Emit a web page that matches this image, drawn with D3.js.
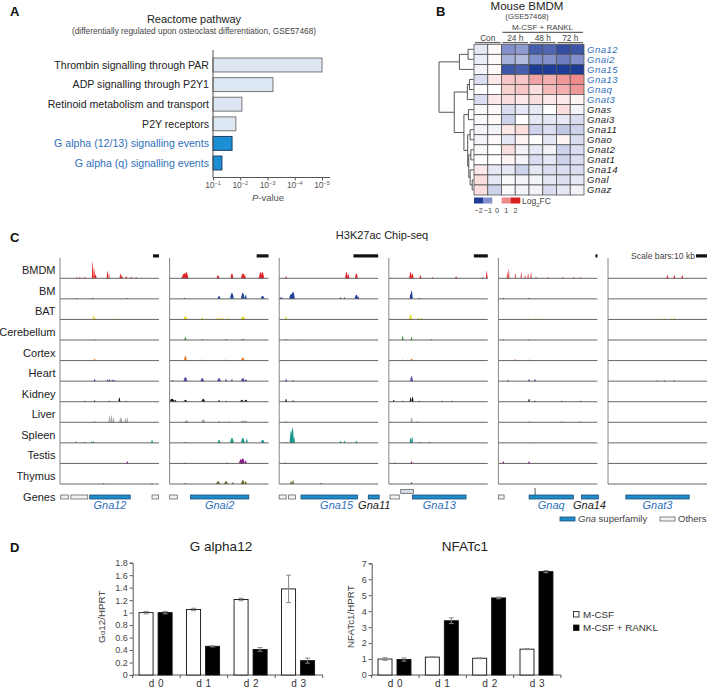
<!DOCTYPE html>
<html><head><meta charset="utf-8">
<script src="https://cdn.jsdelivr.net/npm/d3@7"></script>
<style>body{margin:0;background:#fff}svg{display:block}text{font-family:"Liberation Sans",Arial,Helvetica,sans-serif}</style>
</head><body><svg id="c" width="709" height="688"></svg>
<script>
// ---------------- DATA ----------------
// Panel A
const pathways = ["Thrombin signalling through PAR","ADP signalling through P2Y1","Retinoid metabolism and transport","P2Y receptors","G alpha (12/13) signalling events","G alpha (q) signalling events"];
const pathwayP = [1.0e-5, 6.3e-4, 8.7e-3, 1.45e-2, 2.0e-2, 4.7e-2];
const pathwayHighlighted = [false,false,false,false,true,true];
const pTicks = [1e-1,1e-2,1e-3,1e-4,1e-5];

// Panel B
const heatGenes = ["Gna12","Gnai2","Gna15","Gna13","Gnaq","Gnat3","Gnas","Gnai3","Gna11","Gnao","Gnat2","Gnat1","Gna14","Gnal","Gnaz"];
const heatHighlighted = ["Gna12","Gnai2","Gna15","Gna13","Gnaq","Gnat3"];
const heatSamples = ["Con-1","Con-2","24h-1","24h-2","48h-1","48h-2","72h-1","72h-2"];
const heatGroups = ["Con","24 h","48 h","72 h"];
const heatValues = [
  [-0.2, 0.05,-1.0,-0.9,-1.6,-1.5,-1.8,-1.7],
  [-0.15,0.05,-0.7,-0.6,-1.0,-1.0,-1.2,-1.0],
  [-0.1, 0.05,-1.7,-1.6,-2.0,-2.0,-2.2,-2.2],
  [-0.3, 0.2, 0.5, 0.5, 0.8, 0.7, 0.9, 1.0],
  [0.0,  0.0, 0.4, 0.5, 0.3, 0.6, 0.7, 0.9],
  [-0.3, 0.2, 0.3, 0.2, 0.3, 0.2, 0.2, 0.1],
  [-0.05,0.05,-0.3,-0.2,-0.2, 0.0, 0.3,-0.1],
  [-0.05,0.05,-0.4, 0.0,-0.2,-0.2,-0.2,-0.3],
  [-0.1,-0.1, 0.2, 0.3,-0.4,-0.3,-0.5,-0.4],
  [-0.1, 0.05,-0.2, 0.1, 0.0,-0.2, 0.1,-0.3],
  [-0.05,0.0, 0.3,-0.1,-0.2,-0.1,-0.4,-0.3],
  [0.0,  0.0, 0.1,-0.1,-0.3,-0.2,-0.4,-0.3],
  [0.2, -0.2,-0.2,-0.4,-0.2,-0.3,-0.3,-0.3],
  [0.3, -0.2,-0.05,-0.1,-0.1,-0.2,-0.3,-0.2],
  [0.3, -0.4,-0.05,-0.1,-0.1,-0.3,-0.2,-0.1]
];
const colorbarTicks = [-2,-1,0,1,2];
// dendrogram merges: [childA, childB, height]; leaves 0..14, merges numbered from 15
const dendroMerges = [
  [0,1,0.16],[15,2,0.41],[3,4,0.12],[17,5,0.18],[6,7,0.15],[8,9,0.10],[10,11,0.08],
  [13,14,0.04],[12,22,0.10],[21,23,0.14],[20,24,0.17],[19,25,0.28],[18,26,0.56],[16,27,1.0]
];

// Panel C
const chipTissues = ["BMDM","BM","BAT","Cerebellum","Cortex","Heart","Kidney","Liver","Spleen","Testis","Thymus"];
const chipLoci = ["Gna12","Gnai2","Gna15","Gna13","Gnaq","Gnat3"];
const locusSpanKb = [165, 83, 40, 71, 500, 90];
// peaks per locus, per tissue: [position (0-1), height, halfwidth]
const chipPeaks = [
 [ // Gna12
  [[0.17,1],[0.2,1],[0.25,1],[0.33,16,0.008],[0.345,10,0.008],[0.36,4],[0.48,7,0.008],[0.495,5,0.006],[0.61,5,0.008],[0.625,3],[0.67,2],[0.72,1.5],[0.77,1]],
  [[0.17,0.8],[0.33,1],[0.68,0.8]],
  [[0.34,4],[0.36,1.5],[0.5,1],[0.55,1],[0.6,1],[0.68,1]],
  [[0.35,0.8]],
  [[0.35,2]],
  [[0.35,2],[0.48,1.5],[0.5,2],[0.53,1.5],[0.55,1]],
  [[0.25,1],[0.35,1.5],[0.5,1],[0.6,4],[0.67,1]],
  [[0.35,1.5],[0.5,6],[0.52,7],[0.54,5],[0.61,5],[0.62,4],[0.66,4],[0.68,5]],
  [[0.16,1.5],[0.25,1],[0.32,1.5],[0.34,1.5],[0.93,3]],
  [[0.68,2]],
  [[0.44,1],[0.93,1]]
 ],
 [ // Gnai2
  [[0.15,5,0.03],[0.17,6,0.02],[0.49,3,0.015],[0.63,5,0.015],[0.74,5,0.02],[0.76,4],[0.92,6,0.02],[0.94,6,0.015]],
  [[0.15,1],[0.5,3,0.015],[0.63,6,0.02],[0.74,6,0.02],[0.77,4],[0.94,3,0.02]],
  [[0.16,3,0.02],[0.33,2,0.015],[0.48,2],[0.51,2],[0.54,2],[0.59,2],[0.74,3,0.02],[0.76,2],[0.94,1]],
  [[0.16,3,0.012],[0.33,1],[0.57,1],[0.74,1,0.02]],
  [[0.16,5,0.015],[0.33,1],[0.57,1],[0.74,3,0.02]],
  [[0.03,1],[0.16,4,0.02],[0.33,3,0.02],[0.5,3,0.02],[0.57,2],[0.63,2],[0.74,3,0.02],[0.77,2]],
  [[0.02,3,0.04],[0.06,2],[0.16,2,0.02],[0.34,3,0.02],[0.5,2],[0.57,1],[0.73,2,0.02],[0.77,2,0.02]],
  [[0.17,2,0.02],[0.34,3,0.02],[0.5,1.5],[0.6,1],[0.73,2],[0.75,2],[0.77,2]],
  [[0.16,1],[0.5,3,0.015],[0.63,5,0.02],[0.74,5,0.02],[0.78,4],[0.94,3,0.02]],
  [[0.16,0.8],[0.58,1],[0.72,4,0.02],[0.74,5,0.02],[0.77,3]],
  [[0.16,1],[0.49,3,0.02],[0.57,3,0.02],[0.64,2],[0.74,4,0.02],[0.77,3]]
 ],
 [ // Gna15
  [[0.07,2],[0.68,6,0.015],[0.7,4],[0.78,5,0.015]],
  [[0.02,1.5,0.02],[0.12,5,0.02],[0.14,7,0.02],[0.62,1.5],[0.66,1.5],[0.78,4,0.02],[0.8,2]],
  [[0.07,3],[0.14,1],[0.78,1]],
  [[0.07,1],[0.2,0.5]],
  [[0.07,0.5]],
  [[0.07,2],[0.14,1]],
  [[0.07,3],[0.14,1.5]],
  [[0.07,1.5]],
  [[0.07,1],[0.12,12,0.015],[0.135,15,0.015],[0.15,6],[0.62,2],[0.66,2],[0.78,2]],
  [[0.06,1]],
  [[0.12,3],[0.14,4],[0.42,1]]
 ],
 [ // Gna13
  [[0.22,6,0.015],[0.24,5],[0.32,3],[0.44,1],[0.68,2],[0.95,1],[0.99,7,0.008]],
  [[0.22,5],[0.23,8,0.012],[0.31,1]],
  [[0.22,5,0.015],[0.3,2],[0.33,2]],
  [[0.14,4,0.01],[0.23,3,0.01],[0.43,1]],
  [[0.14,1],[0.23,2,0.015]],
  [[0.23,5,0.015]],
  [[0.05,2],[0.14,1],[0.22,4],[0.24,5],[0.31,1],[0.54,1],[0.64,1]],
  [[0.23,5,0.012],[0.29,1.5]],
  [[0.22,5,0.01],[0.235,6,0.01],[0.31,1],[0.41,1]],
  [[0.06,1],[0.23,2]],
  [[0.23,2]]
 ],
 [ // Gnaq
  [[0.09,6,0.006],[0.105,9,0.006],[0.17,5,0.006],[0.23,6,0.006],[0.27,3,0.006],[0.3,5,0.006],[0.33,6,0.006],[0.38,1],[0.5,1],[0.65,1],[0.76,1],[0.83,1]],
  [[0.05,1],[0.31,1]],
  [[0.31,1],[0.38,1],[0.44,1]],
  [[0.05,1],[0.31,0.8]],
  [[0.17,1.5],[0.31,1]],
  [[0.1,1],[0.31,2],[0.37,2]],
  [[0.31,3],[0.37,1],[0.64,1],[0.83,1]],
  [[0.31,1],[0.64,1],[0.83,1]],
  [[0.05,0.5],[0.31,0.5]],
  [[0.05,2],[0.31,2]],
  []
 ],
 [ // Gnat3
  [[0.6,3],[0.67,3],[0.75,3]],
  [],
  [[0.5,1],[0.57,1.5],[0.63,1],[0.67,2]],
  [],[],
  [[0.5,0.8],[0.57,0.8],[0.67,0.8]],
  [],[],[],[],[]
 ]
];
// gene annotations per locus: [start, end, kind, name, raised, label position]
const geneBoxes = [
  [[0.007,0.084,"other"],[0.11,0.28,"other"],[0.3,0.71,"gna","Gna12"],[0.93,0.995,"other"]],
  [[0.0,0.078,"other"],[0.21,0.8,"gna","Gnai2"]],
  [[0.0,0.07,"other"],[0.095,0.165,"other"],[0.22,0.79,"gna","Gna15",false,0.58],[0.9,1.01,"gna","Gna11",false,0.96]],
  [[0.012,0.106,"other"],[0.12,0.25,"other","",true],[0.24,0.78,"gna","Gna13"]],
  [[0.0,0.057,"other"],[0.37,0.374,"tss","",true],[0.31,0.757,"gna","Gnaq"],[0.84,1.01,"gna","Gna14",false,0.92]],
  [[0.18,0.82,"gna","Gnat3"]]
];
const geneHighlighted = ["Gna12","Gnai2","Gna15","Gna13","Gnaq","Gnat3"];

// Panel D
const days = ["d 0","d 1","d 2","d 3"];
const treatments = ["M-CSF","M-CSF + RANKL"];
const ga12Mcsf = [1.0, 1.05, 1.21, 1.38];
const ga12McsfErr = [0.02, 0.02, 0.02, 0.22];
const ga12Rankl = [1.0, 0.46, 0.41, 0.23];
const ga12RanklErr = [0.02, 0.01, 0.03, 0.04];
const nfatMcsf = [1.0, 1.12, 1.05, 1.62];
const nfatMcsfErr = [0.08, 0.02, 0.03, 0.03];
const nfatRankl = [0.97, 3.4, 4.83, 6.48];
const nfatRanklErr = [0.1, 0.18, 0.05, 0.07];
const ga12Ticks = [0,0.2,0.4,0.6,0.8,1,1.2,1.4,1.6,1.8];
const nfatTicks = [0,1,2,3,4,5,6,7];

// ---------------- DRAW ----------------
const svg = d3.select("#c");
const BLUE_TXT = "#2f6fba";
const TXT = "#222";

function panelLetter(t,x,y){svg.append("text").attr("x",x).attr("y",y).attr("font-size",13).attr("font-weight","bold").attr("fill","#111").text(t);}
panelLetter("A",10,16); panelLetter("B",436,16); panelLetter("C",10,242); panelLetter("D",10,552);

// ===== Panel A =====
{
  const g = svg.append("g");
  g.append("text").attr("x",194).attr("y",22.5).attr("text-anchor","middle").attr("font-size",11).attr("fill",TXT).text("Reactome pathway");
  g.append("text").attr("x",194).attr("y",33.5).attr("text-anchor","middle").attr("font-size",8.3).attr("fill","#444").text("(differentially regulated upon osteoclast differentiation, GSE57468)");
  const x = d3.scaleLog().domain([1e-1,1e-5]).range([213,322]);
  const y = d3.scaleBand().domain(pathways).range([55.2,172.8]).paddingInner(0.29).paddingOuter(0.145);
  g.selectAll("rect.bar").data(pathways).join("rect")
    .attr("x",x(1e-1)).attr("y",d=>y(d)).attr("height",y.bandwidth())
    .attr("width",(d,i)=>x(pathwayP[i])-x(1e-1))
    .attr("fill",(d,i)=>pathwayHighlighted[i]?"#1b8fd3":"#dde7f3")
    .attr("stroke",(d,i)=>pathwayHighlighted[i]?"#1d3f63":"#777").attr("stroke-width",1);
  g.selectAll("text.lab").data(pathways).join("text")
    .attr("x",209).attr("y",d=>y(d)+y.bandwidth()/2).attr("dy","0.35em").attr("text-anchor","end")
    .attr("font-size",10.6).attr("fill",(d,i)=>pathwayHighlighted[i]?BLUE_TXT:TXT).text(d=>d);
  g.append("line").attr("x1",213).attr("x2",213).attr("y1",50).attr("y2",177.5).attr("stroke","#555");
  const ax = g.append("g").attr("transform","translate(0,177.5)")
    .call(d3.axisBottom(x).tickValues(pTicks).tickFormat("").tickSize(3).tickSizeOuter(0));
  ax.select(".domain").attr("stroke","#555").attr("d","M213,0H330");
  ax.selectAll(".tick line").attr("stroke","#555");
  pTicks.forEach(t=>{
    const tx = g.append("text").attr("x",x(t)).attr("y",188).attr("text-anchor","middle").attr("font-size",8.5).attr("fill","#555");
    tx.append("tspan").text("10");
    tx.append("tspan").attr("dy",-3.5).attr("font-size",5.5).text("−"+Math.round(-Math.log10(t)));
  });
  const pv = g.append("text").attr("x",268).attr("y",201).attr("text-anchor","middle").attr("font-size",9.5).attr("fill","#555");
  pv.append("tspan").attr("font-style","italic").text("P");
  pv.append("tspan").text("-value");
}

// ===== Panel B =====
{
  const g = svg.append("g");
  const x = d3.scaleBand().domain(heatSamples).range([474,584]);
  const y = d3.scaleBand().domain(heatGenes).range([44.3,195]);
  const color = d3.scaleLinear().domain([-2,-1,0,1,2]).range(["#1e3c96","#8290cc","#ffffff","#ee8c8c","#d8201f"]).clamp(true);
  g.append("text").attr("x",527).attr("y",10).attr("text-anchor","middle").attr("font-size",11.5).attr("fill",TXT).text("Mouse BMDM");
  g.append("text").attr("x",527).attr("y",19.3).attr("text-anchor","middle").attr("font-size",7.8).attr("fill","#444").text("(GSE57468)");
  g.append("text").attr("x",542.5).attr("y",29.6).attr("text-anchor","middle").attr("font-size",8).attr("fill","#444").text("M-CSF + RANKL");
  g.append("line").attr("x1",x(heatSamples[2])+1).attr("x2",x(heatSamples[7])+x.bandwidth()-1).attr("y1",32.3).attr("y2",32.3).attr("stroke","#666").attr("stroke-width",1.3);
  heatGroups.forEach((grp,i)=>{
    const x0 = x(heatSamples[2*i])+1, x1 = x(heatSamples[2*i+1])+x.bandwidth()-1;
    g.append("text").attr("x",(x0+x1)/2).attr("y",40.5).attr("text-anchor","middle").attr("font-size",8.3).attr("fill","#444").text(grp);
    g.append("line").attr("x1",x0).attr("x2",x1).attr("y1",42.6).attr("y2",42.6).attr("stroke","#666").attr("stroke-width",1.3);
  });
  heatGenes.forEach((gene,r)=>{
    heatSamples.forEach((s,c)=>{
      g.append("rect").attr("x",x(s)).attr("y",y(gene)).attr("width",x.bandwidth()).attr("height",y.bandwidth())
        .attr("fill",color(heatValues[r][c])).attr("stroke","#555").attr("stroke-width",0.8);
    });
  });
  g.selectAll("text.gene").data(heatGenes).join("text")
    .attr("x",587).attr("y",d=>y(d)+y.bandwidth()/2).attr("dy","0.36em")
    .attr("font-size",9.6).attr("letter-spacing",0.45).attr("font-style","italic")
    .attr("fill",d=>heatHighlighted.includes(d)?BLUE_TXT:TXT).text(d=>d);
  // dendrogram
  const xd = d3.scaleLinear().domain([0,1]).range([473.6,439]);
  const nodes = heatGenes.map(gn=>({y:y(gn)+y.bandwidth()/2,h:0}));
  dendroMerges.forEach(([a,b,h])=>{
    const A=nodes[a],B=nodes[b],xp=xd(h);
    g.append("path").attr("d",`M${xd(A.h)},${A.y}H${xp}V${B.y}H${xd(B.h)}`)
      .attr("fill","none").attr("stroke","#444").attr("stroke-width",0.9);
    nodes.push({y:(A.y+B.y)/2,h});
  });
  // colorbar
  const cb = d3.scaleBand().domain(colorbarTicks).range([474,520]);
  g.selectAll("rect.cb").data(colorbarTicks).join("rect")
    .attr("x",d=>cb(d)).attr("y",197.5).attr("width",cb.bandwidth()+0.3).attr("height",6).attr("fill",d=>color(d));
  g.selectAll("text.cbl").data(colorbarTicks).join("text")
    .attr("x",d=>cb(d)+cb.bandwidth()/2).attr("y",212.5).attr("text-anchor","middle").attr("font-size",7.2).attr("fill","#444")
    .text(d=>d<0?"−"+(-d):d);
  const lf = g.append("text").attr("x",522).attr("y",204).attr("font-size",8.5).attr("fill","#444");
  lf.append("tspan").text("Log");
  lf.append("tspan").attr("dy",2.5).attr("font-size",6).text("2");
  lf.append("tspan").attr("dy",-2.5).text("FC");
}

// ===== Panel C =====
{
  const g = svg.append("g");
  const TCOL = {BMDM:"#e3242b",BM:"#1f3f99",BAT:"#e6de12",Cerebellum:"#3c9a3c",Cortex:"#ee7a22",Heart:"#4f4faa",Kidney:"#111111",Liver:"#a8a8a8",Spleen:"#17968a",Testis:"#8b1a8b",Thymus:"#6e6a2a"};
  const px = d3.scaleBand().domain(chipLoci).range([60,707]).paddingInner(0.097);
  const ty = d3.scalePoint().domain(chipTissues).range([278.3,484]);
  const hy = d3.scaleLinear().domain([0,16]).range([0,16.5]);
  g.append("text").attr("x",382).attr("y",238.5).attr("text-anchor","middle").attr("font-size",11).attr("fill",TXT).text("H3K27ac Chip-seq");
  g.append("text").attr("x",695).attr("y",259).attr("text-anchor","end").attr("font-size",8.6).attr("fill","#444").text("Scale bars:10 kb");
  chipTissues.forEach(t=>{
    g.append("text").attr("x",55.5).attr("y",ty(t)-4).attr("text-anchor","end").attr("font-size",11).attr("fill",TXT).text(t);
  });
  g.append("text").attr("x",55.5).attr("y",500.7).attr("text-anchor","end").attr("font-size",11).attr("fill",TXT).text("Genes");
  const area = d3.area().x(d=>d[0]).y0(d=>d[2]).y1(d=>d[1]).curve(d3.curveMonotoneX);
  chipLoci.forEach((loc,li)=>{
    const x0 = px(loc), w = px.bandwidth();
    const xs = d3.scaleLinear().domain([0,1]).range([x0,x0+w]).clamp(true);
    const xl = d3.scaleLinear().domain([0,1]).range([x0,x0+w]);
    chipTissues.forEach((t,ti)=>{
      const base = ty(t);
      chipPeaks[li][ti].forEach(pk=>{
        const [p,h,hw=0.01] = pk;
        const pts = [[xs(p-hw),base,base],[xs(p),base-hy(h),base],[xs(p+hw),base,base]];
        g.append("path").attr("d",area(pts)).attr("fill",TCOL[t]);
      });
      g.append("line").attr("x1",x0).attr("x2",x0+w).attr("y1",base).attr("y2",base).attr("stroke","#555").attr("stroke-width",0.9);
    });
    g.append("line").attr("x1",x0).attr("x2",x0).attr("y1",258).attr("y2",ty(chipTissues[chipTissues.length-1])).attr("stroke","#777").attr("stroke-width",0.9);
    const barW = 10/locusSpanKb[li]*w;
    g.append("rect").attr("x",x0+w-barW).attr("y",254.3).attr("width",barW).attr("height",3.2).attr("fill","#111");
    const gy = 497;
    geneBoxes[li].forEach(([s,e,kind,name,raised,lp])=>{
      const bx = xl(s), bw = Math.max(1, xl(e)-xl(s));
      if(kind==="tss"){
        g.append("line").attr("x1",bx).attr("x2",bx).attr("y1",488).attr("y2",495.5).attr("stroke","#555").attr("stroke-width",1);
        return;
      }
      const yy = raised ? 489.5 : gy-2;
      g.append("rect").attr("x",bx).attr("y",yy).attr("width",bw).attr("height",4)
        .attr("fill",kind==="gna"?"#1f8bc9":(raised?"#d6dbe8":"#f2f2f2"))
        .attr("stroke",kind==="gna"?"#1a4e78":"#666").attr("stroke-width",0.8);
      if(name){
        const lx = lp!==undefined ? xl(lp) : bx+bw/2;
        g.append("text").attr("x",lx).attr("y",509.3).attr("text-anchor","middle")
          .attr("font-size",11).attr("font-style","italic")
          .attr("fill",geneHighlighted.includes(name)?BLUE_TXT:TXT).text(name);
      }
    });
  });
  g.append("rect").attr("x",560).attr("y",517).attr("width",15).attr("height",4).attr("fill","#1f8bc9").attr("stroke","#1a4e78").attr("stroke-width",0.8);
  const lt = g.append("text").attr("x",578).attr("y",522).attr("font-size",9.5).attr("fill","#444");
  lt.append("tspan").attr("font-style","italic").text("Gna");
  lt.append("tspan").text(" superfamily");
  g.append("rect").attr("x",660).attr("y",517).attr("width",15).attr("height",4).attr("fill","#f2f2f2").attr("stroke","#666").attr("stroke-width",0.8);
  g.append("text").attr("x",678).attr("y",522).attr("font-size",9.5).attr("fill","#444").text("Others");
}

// ===== Panel D =====
function barChart(opts){
  const g = svg.append("g");
  const x = d3.scaleBand().domain(days).range([opts.x0,opts.x1]);
  const xi = d3.scaleBand().domain(treatments).range([0,x.step()]).paddingInner(0.263).paddingOuter(0.379).align(0.44);
  const y = d3.scaleLinear().domain([0,opts.max]).range([675,opts.ytop]);
  g.append("text").attr("x",opts.titleX).attr("y",551).attr("text-anchor","middle").attr("font-size",13.5).attr("fill",TXT).text(opts.title);
  const ay = g.append("g").attr("transform",`translate(${opts.x0},0)`)
    .call(d3.axisLeft(y).tickValues(opts.ticks).tickSize(3).tickPadding(2).tickFormat(d=>String(+d.toFixed(1))));
  ay.select(".domain").attr("stroke","#555");
  ay.selectAll(".tick line").attr("stroke","#555");
  ay.selectAll(".tick text").attr("font-size",9).attr("fill","#444").attr("font-family",'"Liberation Sans",Arial,sans-serif');
  g.append("line").attr("x1",opts.x0).attr("x2",opts.x1).attr("y1",675).attr("y2",675).attr("stroke","#555");
  const edges = days.map(d=>x(d)).concat([opts.x1]);
  g.selectAll("line.xt").data(edges).join("line").attr("x1",d=>d).attr("x2",d=>d).attr("y1",675).attr("y2",678).attr("stroke","#555");
  g.selectAll("text.xl").data(days).join("text").attr("x",d=>x(d)+x.bandwidth()/2).attr("y",686.5)
    .attr("text-anchor","middle").attr("font-size",10).attr("fill","#333").attr("letter-spacing",0.5).text(d=>d);
  const series = [[opts.a,opts.aErr,"#fff"],[opts.b,opts.bErr,"#000"]];
  series.forEach(([vals,errs,fill],si)=>{
    days.forEach((d,i)=>{
      const bx = x(d)+xi(treatments[si]), bw = xi.bandwidth();
      g.append("rect").attr("x",bx).attr("y",y(vals[i])).attr("width",bw).attr("height",675-y(vals[i]))
        .attr("fill",fill).attr("stroke","#111").attr("stroke-width",0.9);
      const cx = bx+bw/2, yt=y(vals[i]+errs[i]), yb=y(vals[i]-errs[i]);
      g.append("path").attr("d",`M${cx},${yt}V${yb}M${cx-2.5},${yt}H${cx+2.5}M${cx-2.5},${yb}H${cx+2.5}`)
        .attr("stroke","#888").attr("stroke-width",1).attr("fill","none");
    });
  });
  const yl = g.append("text").attr("transform",`translate(${opts.labX},616.7) rotate(-90)`).attr("text-anchor","middle").attr("font-size",9.8).attr("fill","#444");
  opts.label(yl);
}
barChart({x0:132.7,x1:322.7,max:1.8,ytop:562.7,ticks:ga12Ticks,a:ga12Mcsf,aErr:ga12McsfErr,b:ga12Rankl,bErr:ga12RanklErr,
  title:"G alpha12",titleX:221,labX:105,label:t=>{t.append("tspan").text("G");t.append("tspan").attr("font-size",8).text("α");t.append("tspan").text("12/HPRT");}});
barChart({x0:371.7,x1:561,max:7,ytop:563.3,ticks:nfatTicks,a:nfatMcsf,aErr:nfatMcsfErr,b:nfatRankl,bErr:nfatRanklErr,
  title:"NFATc1",titleX:465,labX:354,label:t=>{t.text("NFATc1/HPRT");}});
{
  const g = svg.append("g");
  treatments.forEach((tr,i)=>{
    g.append("rect").attr("x",573.5).attr("y",611.5+i*13.5).attr("width",5.5).attr("height",5.5)
      .attr("fill",i===0?"#fff":"#000").attr("stroke","#111").attr("stroke-width",0.8);
    g.append("text").attr("x",583).attr("y",617.5+i*13.5).attr("font-size",9.8).attr("fill","#333").text(tr);
  });
}
</script></body></html>
